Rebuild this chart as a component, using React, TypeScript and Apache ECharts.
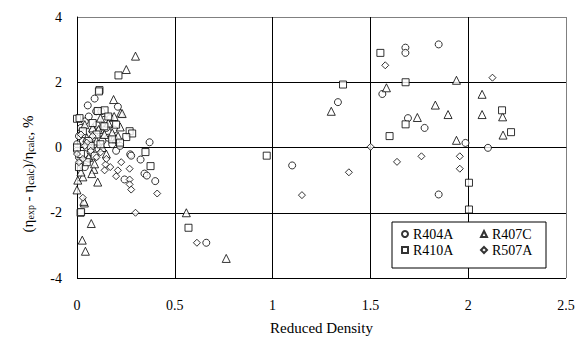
import React, { useEffect, useRef } from "react";
import * as echarts from "echarts";

const xTicks = [0, 0.5, 1, 1.5, 2, 2.5];
const yTicks = [-4, -2, 0, 2, 4];

const r404a: number[][] = [
  [1.334, 1.39], [1.561, 1.64], [1.679, 3.06], [1.679, 2.9], [1.849, 3.16], [1.692, 0.9],
  [1.777, 0.6], [1.986, 0.14], [2.101, -0.01], [1.849, -1.44], [1.1, -0.55], [0.661, -2.92],
  [0.09, 1.5], [0.055, 1.29], [0.209, 1.25], [0.098, 1.11], [0.124, 1.11], [0.371, 0.16],
  [0.272, -0.21], [0.277, -0.25], [0.325, -0.37], [0.345, -0.8], [0.357, -0.86], [0.243, -0.98],
  [0.4, -1.03], [0.02, 0.6], [0.04, 0.8], [0.06, 0.95], [0.08, 0.5], [0.1, 0.7], [0.12, 0.45],
  [0.14, 0.85], [0.16, 0.3], [0.03, 0.2], [0.05, 0.0], [0.07, -0.15], [0.01, -0.3], [0.02, -0.5],
  [0.09, 0.1], [0.11, -0.05], [0.13, 0.2], [0.15, 0.6], [0.18, 0.1], [0.2, -0.1], [0.22, 0.05],
  [0.0, 0.1], [0.0, -0.1], [0.01, 0.35], [0.04, -0.6], [0.06, -0.35], [0.17, 0.9], [0.19, 0.55],
];

const r407c: number[][] = [
  [1.3, 1.11], [1.582, 1.83], [1.832, 1.3], [1.897, 1.01], [2.071, 1.63], [2.071, 1.01],
  [2.176, 0.94], [1.74, 0.92], [1.94, 2.06], [1.94, 0.22], [2.178, 0.38], [0.559, -2.0],
  [0.763, -3.4], [0.299, 2.8], [0.252, 2.39], [0.187, 1.47], [0.223, 1.06], [0.231, 1.04],
  [0.221, 0.63], [0.2, 0.27], [0.086, -0.67], [0.076, -0.8], [0.106, -1.06], [0.004, -1.0],
  [0.03, -0.9], [0.0, -1.3], [0.038, -1.7], [0.073, -2.33], [0.027, -2.84], [0.043, -3.18],
  [0.035, -1.65], [0.05, 0.3], [0.08, 0.6], [0.1, 0.2], [0.12, 0.9], [0.14, 0.4], [0.16, 0.75],
  [0.18, 0.45], [0.06, -0.3], [0.09, -0.5], [0.02, -0.75], [0.13, 0.0], [0.15, -0.2], [0.04, 0.7],
  [0.19, 0.95], [0.21, 0.35], [0.11, 0.55],
];

const r410a: number[][] = [
  [1.551, 2.9], [1.36, 1.93], [1.68, 2.0], [1.68, 0.71], [1.598, 0.35], [2.173, 1.14],
  [2.219, 0.47], [2.004, -1.08], [2.004, -1.9], [0.97, -0.25], [0.57, -2.46], [0.212, 2.21],
  [0.115, 1.76], [0.112, 1.72], [0.141, 1.14], [0.106, 1.12], [0.0, 0.88], [0.013, 0.9],
  [0.269, 0.5], [0.282, 0.43], [0.252, 0.32], [0.35, -0.14], [0.376, -0.57], [0.018, -2.0],
  [0.021, -1.98], [0.03, 0.5], [0.06, 0.2], [0.08, 0.75], [0.1, 0.4], [0.12, 0.1], [0.14, 0.65],
  [0.16, 0.95], [0.18, 0.25], [0.02, -0.2], [0.05, -0.45], [0.07, 0.05], [0.2, 0.7], [0.22, 0.15],
  [0.09, -0.25], [0.0, 0.0], [0.01, -0.6],
];

const r507a: number[][] = [
  [1.576, 2.52], [2.124, 2.14], [1.501, 0.02], [1.636, -0.44], [1.761, -0.27], [1.957, -0.27],
  [1.957, -0.65], [1.39, -0.76], [1.15, -1.46], [0.613, -2.92], [0.226, -0.45], [0.209, -0.7],
  [0.269, -0.65], [0.146, -0.52], [0.141, -0.7], [0.2, -0.88], [0.269, -0.98], [0.269, -1.13],
  [0.277, -1.29], [0.41, -1.41], [0.03, -1.54], [0.299, -2.0], [0.02, 0.4], [0.05, 0.15],
  [0.07, -0.1], [0.1, -0.3], [0.12, -0.15], [0.03, -0.35], [0.0, -0.2], [0.08, 0.35],
  [0.15, -0.35], [0.17, -0.6], [0.01, -0.45], [0.04, 0.05],
];

const seriesDefs = [
  { name: "R404A", data: r404a, symbol: "circle", size: 7 },
  { name: "R407C", data: r407c, symbol: "triangle", size: 8 },
  { name: "R410A", data: r410a, symbol: "rect", size: 7 },
  { name: "R507A", data: r507a, symbol: "diamond", size: 7 },
];

const FONT = "Times New Roman";

export default function App() {
  const ref = useRef<HTMLDivElement>(null);
  useEffect(() => {
    if (!ref.current) return;
    const chart = echarts.init(ref.current, null, { renderer: "svg" });
    chart.setOption({
      animation: false,
      backgroundColor: "#fff",
      grid: { left: 77, right: 12, top: 17, bottom: 71, outerBoundsMode: "none" },
      xAxis: {
        type: "value",
        min: xTicks[0],
        max: xTicks[xTicks.length - 1],
        interval: 0.5,
        name: "Reduced Density",
        nameLocation: "middle",
        nameGap: 42,
        nameTextStyle: { fontFamily: FONT, fontSize: 15, color: "#000" },
        axisLine: { lineStyle: { color: "#000", width: 1 } },
        axisTick: { show: false },
        axisLabel: { fontFamily: FONT, fontSize: 14, color: "#000", margin: 20 },
        splitLine: {
          show: true,
          lineStyle: { color: ["#000", "#000", "#000", "#000", "#000", "#808080"], width: 1 },
        },
      },
      yAxis: {
        type: "value",
        min: yTicks[0],
        max: yTicks[yTicks.length - 1],
        interval: 2,
        axisLine: { lineStyle: { color: "#000", width: 1 } },
        axisTick: { show: false },
        axisLabel: { fontFamily: FONT, fontSize: 14, color: "#000", margin: 15 },
        splitLine: {
          show: true,
          lineStyle: { color: ["#000", "#000", "#000", "#000", "#808080"], width: 1 },
        },
      },
      legend: {
        left: 401,
        top: 227,
        width: 160,
        z: 10,
        orient: "horizontal",
        padding: 0,
        itemGap: 2,
        itemWidth: 6,
        itemHeight: 6,
        textStyle: { fontFamily: FONT, fontSize: 14, color: "#000", width: 65, lineHeight: 14 },
        data: seriesDefs.map((s) => s.name),
      },
      graphic: [
        {
          type: "rect",
          z: 5,
          shape: { x: 392, y: 222, width: 154, height: 46 },
          style: { fill: "#fff", stroke: "#000", lineWidth: 1 },
        },
        {
          type: "text",
          x: 28,
          y: 174,
          rotation: Math.PI / 2,
          style: {
            text: "{n|(η}{s|exp}{n| - η}{s|calc}{n|)/η}{s|calc}{n|, %}",
            align: "center",
            verticalAlign: "middle",
            fontFamily: FONT,
            fontSize: 15,
            fill: "#000",
            rich: {
              n: { fontFamily: FONT, fontSize: 15, fill: "#000" },
              s: { fontFamily: FONT, fontSize: 10, fill: "#000", padding: [5, 0, 0, 0] },
            },
          },
        },
      ],
      series: seriesDefs.map((s) => ({
        name: s.name,
        type: "scatter",
        data: s.data,
        symbol: s.symbol,
        symbolSize: s.size,
        itemStyle: { color: "#fff", borderColor: "#000", borderWidth: 1 },
      })),
    });
    return () => chart.dispose();
  }, []);
  return (
    <div
      ref={ref}
      style={{ position: "fixed", left: 0, top: 0, width: 578, height: 349 }}
    />
  );
}
